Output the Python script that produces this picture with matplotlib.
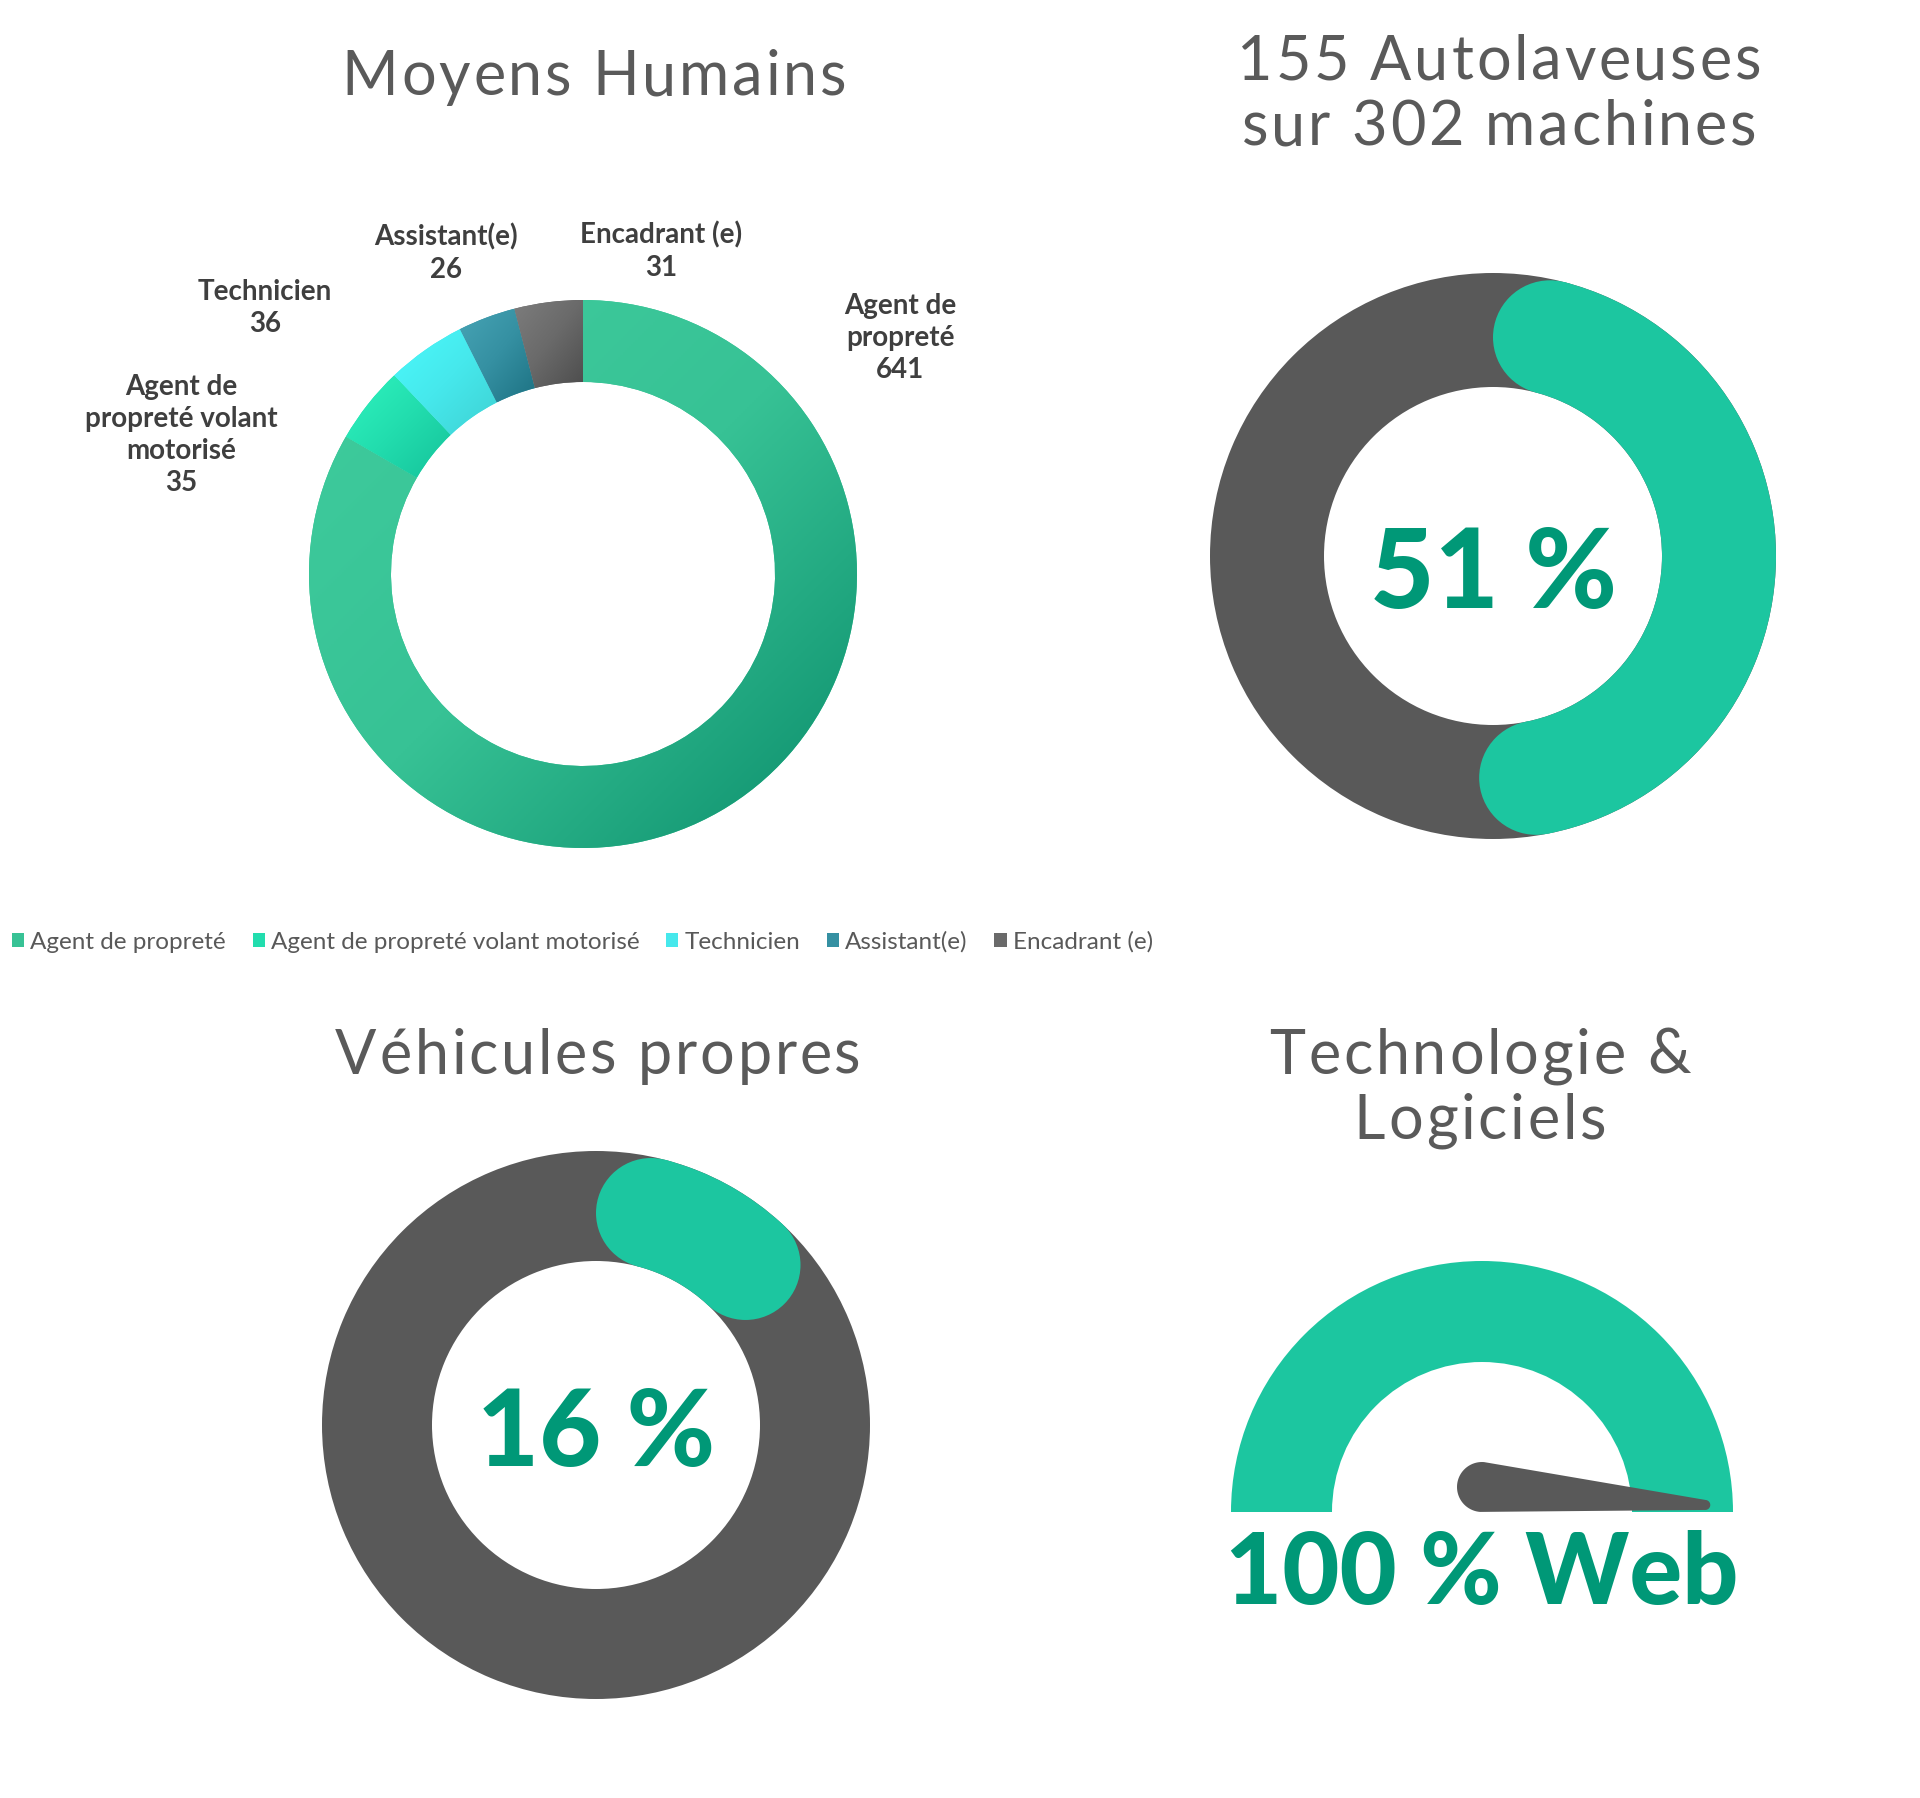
import numpy as np
import matplotlib.pyplot as plt
from matplotlib.patches import Wedge, Circle, Polygon
from matplotlib.colors import LinearSegmentedColormap

W, H = 1920, 1798

# Moyens Humains
staff_labels = ['Agent de propreté', 'Agent de propreté volant motorisé',
                'Technicien', 'Assistant(e)', 'Encadrant (e)']
staff_counts = [641, 35, 36, 26, 31]
staff_label_text = ['Agent de\npropreté', 'Agent de\npropreté volant\nmotorisé',
                    'Technicien', 'Assistant(e)', 'Encadrant (e)']

# the three gauges
machines_pct = 51
vehicles_pct = 16
web_pct = 100

# colours (light -> dark gradient per slice)
slice_grad = [['#40CD9E', '#37C295', '#0B8D6B'],
              ['#2FF4BF', '#22DDAE', '#15C29A'],
              ['#4BFAFC', '#46E8EC', '#3ED1D2'],
              ['#47A4B5', '#3590A2', '#1D7283'],
              ['#7D7D7D', '#6A6A6A', '#4D4D4D']]
slice_mid = [g[1] for g in slice_grad]
GREEN = '#1CC6A0'
DARK_GREEN = '#009877'
GREY = '#595959'
TITLE = '#5A5A5A'
LABEL = '#3F3F3F'
FONT = 'Lato'


def Y(y):
    # picture rows counted from top -> data y
    return H - y


fig = plt.figure(figsize=(19.2, 17.98), dpi=100)
ax = fig.add_axes([0, 0, 1, 1])
ax.set_xlim(0, W)
ax.set_ylim(0, H)

# ---- donut 1 ----
c1 = (583, Y(574))
wedges, _ = ax.pie(staff_counts, colors=slice_mid, startangle=90, counterclock=False,
                   center=c1, radius=274, frame=True,
                   wedgeprops=dict(width=82, linewidth=0))
grad = np.linspace(0, 1, 256)
gx, gy = np.meshgrid(grad, grad)
gt = (gx + gy) / 2
for w, cols in zip(wedges, slice_grad):
    ext = w.get_path().get_extents()
    cm = LinearSegmentedColormap.from_list('g', cols)
    im = ax.imshow(gt, cmap=cm, extent=(ext.x0, ext.x1, ext.y0, ext.y1),
                   origin='upper', interpolation='bilinear', zorder=2)
    im.set_clip_path(w)

label_pos = [(900, 338), (181, 435), (265, 308), (446, 253), (661, 251)]
for txt, n, (x, y) in zip(staff_label_text, staff_counts, label_pos):
    ax.text(x, Y(y), f'{txt}\n{n}', ha='center', va='center', fontsize=20,
            fontweight='bold', color=LABEL, family=FONT, linespacing=1.3, zorder=5)

leg = ax.legend(wedges, staff_labels, loc='center left', bbox_to_anchor=(12, Y(942)),
                bbox_transform=ax.transData, ncol=5, frameon=False,
                prop=dict(family=FONT, size=17.5), labelcolor='#595959',
                handlelength=0.5, handleheight=0.5, handletextpad=0.25,
                columnspacing=1.1, borderaxespad=0, borderpad=0)


# ---- rounded progress donuts ----
def progress(center, r_out, r_in, pct):
    cx, cy = center
    ax.add_patch(Wedge(center, r_out, 0, 360, width=r_out - r_in, color=GREY, lw=0, zorder=2))
    w = r_out - r_in
    rm = (r_out + r_in) / 2
    cap = np.degrees(np.arcsin(w / 2 / rm))
    a0 = 90 - cap
    a1 = 90 - pct * 3.6 + cap
    ax.add_patch(Wedge(center, r_out, a1, a0, width=w, color=GREEN, lw=0, zorder=3))
    for a in (a0, a1):
        ax.add_patch(Circle((cx + rm * np.cos(np.radians(a)), cy + rm * np.sin(np.radians(a))),
                            w / 2, color=GREEN, lw=0, zorder=3))


c2 = (1493, Y(556))
progress(c2, 283, 169, machines_pct)
ax.text(c2[0], Y(608), f'{machines_pct} %', ha='center', va='baseline', fontsize=80,
        fontweight='black', color=DARK_GREEN, family=FONT, zorder=5)

c3 = (596, Y(1425))
progress(c3, 274, 164, vehicles_pct)
ax.text(c3[0], Y(1466), f'{vehicles_pct} %', ha='center', va='baseline', fontsize=77,
        fontweight='black', color=DARK_GREEN, family=FONT, zorder=5)

# ---- half gauge ----
c4 = (1482, Y(1512))
ax.add_patch(Wedge(c4, 251, 0, 180, width=101, color=GREEN, lw=0, zorder=2))
ang = np.radians(180 * (1 - web_pct / 100) - 4.6)
piv = np.array([c4[0], c4[1] + 25])
d = np.array([np.cos(ang), np.sin(ang)])
tip = piv + 224 * d
pts = []
for t in np.linspace(ang + np.pi / 2, ang + 3 * np.pi / 2, 40):
    pts.append(piv + 25 * np.array([np.cos(t), np.sin(t)]))
for t in np.linspace(ang - np.pi / 2, ang + np.pi / 2, 20):
    pts.append(tip + 5 * np.array([np.cos(t), np.sin(t)]))
ax.add_patch(Polygon(pts, closed=True, color=GREY, lw=0, zorder=4))
ax.text(c4[0], Y(1604), f'{web_pct} % Web', ha='center', va='baseline', fontsize=71,
        fontweight='black', color=DARK_GREEN, family=FONT, zorder=5)

# ---- titles, drawn letter by letter for the wide tracking ----
tkw = dict(va='baseline', fontsize=44, color=TITLE, family=FONT)
renderer = fig.canvas.get_renderer()


def measure(s):
    t = ax.text(0, 0, s, **tkw)
    wdt = t.get_window_extent(renderer).width
    t.remove()
    return wdt


def spaced_title(x, y, s, track=2.8):
    base = measure('I')
    offs = [measure(s[:i] + 'I') - base for i in range(len(s) + 1)]
    total = offs[-1] + track * (len(s) - 1)
    x0 = x - total / 2
    for i, ch in enumerate(s):
        if ch != ' ':
            ax.text(x0 + offs[i] + track * i, Y(y), ch, ha='left', **tkw)


spaced_title(594, 95, 'Moyens Humains')
spaced_title(1499, 80, '155 Autolaveuses')
spaced_title(1499, 145, 'sur 302 machines')
spaced_title(598, 1074, 'Véhicules propres')
spaced_title(1480, 1074, 'Technologie &')
spaced_title(1480, 1139, 'Logiciels')

ax.set_xlim(0, W)
ax.set_ylim(0, H)
ax.set_aspect('equal')
ax.axis('off')
fig.savefig('out.png', dpi=100, facecolor='white')
